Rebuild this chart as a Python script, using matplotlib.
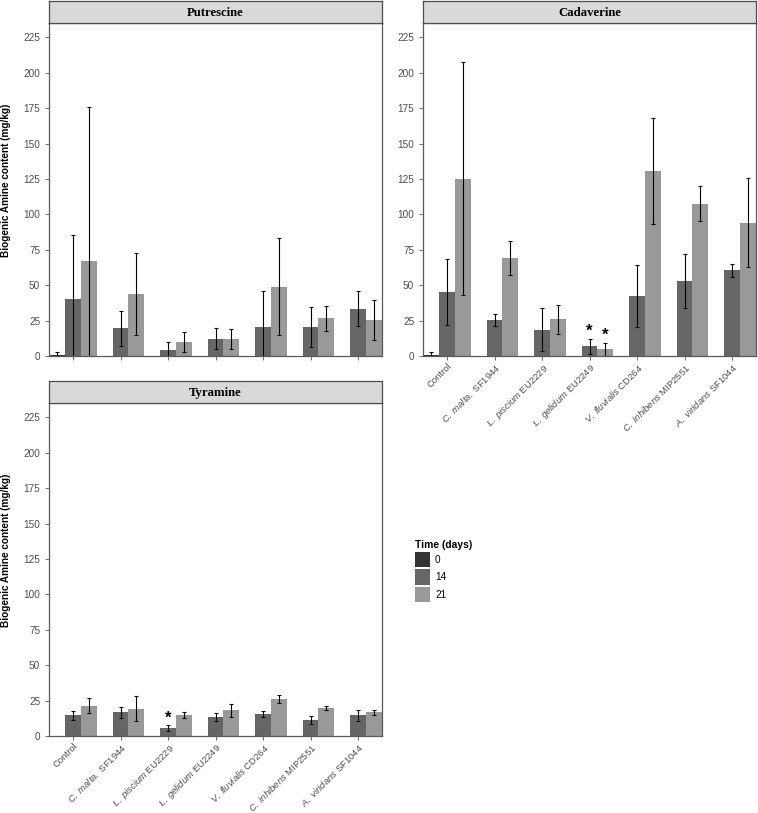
import numpy as np
import matplotlib
matplotlib.use('Agg')
import matplotlib.pyplot as plt
from matplotlib.patches import Patch

plt.rcParams['font.family'] = ['Liberation Sans', 'DejaVu Sans']
plt.rcParams['mathtext.fontset'] = 'custom'
plt.rcParams['mathtext.rm'] = 'Liberation Sans'
plt.rcParams['mathtext.it'] = 'Liberation Sans:italic'

nan = np.nan
groups = ["Control", "C. malta. SF1944", "L. piscium EU2229", "L. gelidum EU2249",
          "V. fluvialis CD264", "C. inhibens MIP2551", "A. viridans SF1044"]
tick_labels = ["Control", r"$\it{C.\ malta.}$ SF1944", r"$\it{L.\ piscium}$ EU2229",
               r"$\it{L.\ gelidum}$ EU2249", r"$\it{V.\ fluvialis}$ CD264",
               r"$\it{C.\ inhibens}$ MIP2551", r"$\it{A.\ viridans}$ SF1044"]
times = ["0", "14", "21"]
colors = ["#333333", "#666666", "#999999"]

# means and sd, one list per time point (day 0 only measured for control)
put_0 = [0.5, nan, nan, nan, nan, nan, nan]
put_0_sd = [2.5, nan, nan, nan, nan, nan, nan]
put_14 = [40.0, 19.6, 4.5, 12.3, 20.5, 20.5, 33.5]
put_14_sd = [45.8, 12.4, 5.2, 7.5, 25.4, 13.9, 12.3]
put_21 = [67.4, 43.8, 10.1, 11.8, 49.0, 26.6, 25.4]
put_21_sd = [108.6, 28.8, 7.2, 7.0, 34.2, 9.0, 14.4]

cad_0 = [0.8, nan, nan, nan, nan, nan, nan]
cad_0_sd = [1.8, nan, nan, nan, nan, nan, nan]
cad_14 = [45.3, 25.5, 18.4, 6.8, 42.2, 53.1, 60.4]
cad_14_sd = [23.5, 4.4, 15.2, 5.3, 22.0, 19.2, 4.6]
cad_21 = [125.2, 69.1, 25.9, 4.7, 130.4, 107.5, 94.1]
cad_21_sd = [82.2, 12.0, 10.4, 4.7, 37.5, 12.3, 31.5]

tyr_0 = [nan, nan, nan, nan, nan, nan, nan]
tyr_0_sd = [nan, nan, nan, nan, nan, nan, nan]
tyr_14 = [14.5, 16.6, 5.7, 13.5, 15.6, 11.4, 14.5]
tyr_14_sd = [3.3, 3.9, 1.9, 3.0, 2.4, 2.6, 3.8]
tyr_21 = [21.3, 19.2, 14.9, 18.2, 26.1, 19.9, 16.6]
tyr_21_sd = [5.2, 8.9, 2.2, 4.6, 3.1, 1.4, 1.6]

# significance stars: (group index, time index)
cad_stars = [(3, 1), (3, 2)]
tyr_stars = [(2, 1)]

yticks = [0, 25, 50, 75, 100, 125, 150, 175, 200, 225]

W, H = 758, 813
fig = plt.figure(figsize=(W / 100, H / 100), dpi=100)

def px_axes(x0, x1, y0, y1):
    return fig.add_axes([x0 / W, 1 - y1 / H, (x1 - x0) / W, (y1 - y0) / H])

def panel(x0, x1, y0, y1, title, means, sds, stars, show_xlabels):
    ax = px_axes(x0, x1, y0, y1)
    x = np.arange(len(groups))
    for k in range(3):
        ax.bar(x + (k - 1) / 3, means[k], width=1 / 3, color=colors[k], linewidth=0)
        ax.errorbar(x + (k - 1) / 3, means[k], yerr=sds[k], fmt='none', ecolor='black',
                    elinewidth=0.8, capsize=1.3, capthick=0.8)
    for g, k in stars:
        top = means[k][g] + sds[k][g]
        ax.text(g + (k - 1) / 3, top + 2, '*', ha='center', va='baseline',
                fontsize=12, fontweight='bold', color='black')
    ax.set_xlim(-0.5, len(groups) - 0.5)
    ax.set_ylim(0, 235)
    ax.set_yticks(yticks)
    ax.set_xticks(x)
    if show_xlabels:
        ax.set_xticklabels(tick_labels, rotation=45, ha='right', rotation_mode='anchor')
    else:
        ax.set_xticklabels([])
    ax.tick_params(colors='#595959', labelcolor='#4d4d4d', labelsize=7.2, length=3, width=0.6)
    ax.tick_params(axis='x', pad=1.2, labelsize=6.8)
    for s in ax.spines.values():
        s.set_color('#595959')
        s.set_linewidth(0.9)
    st = px_axes(x0, x1, y0 - 22.3, y0)
    st.set_facecolor('#d9d9d9')
    st.set_xticks([]); st.set_yticks([])
    for s in st.spines.values():
        s.set_color('#4d4d4d')
        s.set_linewidth(0.9)
    st.text(0.5, 0.45, title, ha='center', va='center', fontsize=9.2, fontweight='bold',
            family='Liberation Serif', transform=st.transAxes)
    return ax

panel(49.3, 381.8, 23.3, 356, "Putrescine",
      [put_0, put_14, put_21], [put_0_sd, put_14_sd, put_21_sd], [], False)
panel(423.3, 755.8, 23.3, 356, "Cadaverine",
      [cad_0, cad_14, cad_21], [cad_0_sd, cad_14_sd, cad_21_sd], cad_stars, True)
panel(49.3, 381.8, 403.3, 736, "Tyramine",
      [tyr_0, tyr_14, tyr_21], [tyr_0_sd, tyr_14_sd, tyr_21_sd], tyr_stars, True)

for yc in [180, 550]:
    fig.text(6.5 / W, 1 - yc / H, "Biogenic Amine content (mg/kg)", rotation=90,
             ha='center', va='center', fontsize=7.2, fontweight='bold')

handles = [Patch(facecolor=c, edgecolor='none') for c in colors]
leg = fig.legend(handles, times, loc='upper left', bbox_to_anchor=(407 / W, 1 - 532 / H),
                 frameon=False, title="Time (days)", fontsize=7.2,
                 handlelength=1.5, handleheight=2.0, labelspacing=0.2, handletextpad=0.5,
                 borderpad=0.3)
leg.get_title().set_fontweight('bold')
leg.get_title().set_fontsize(7.4)
leg._legend_box.align = 'left'

plt.savefig('out.png', dpi=100)
